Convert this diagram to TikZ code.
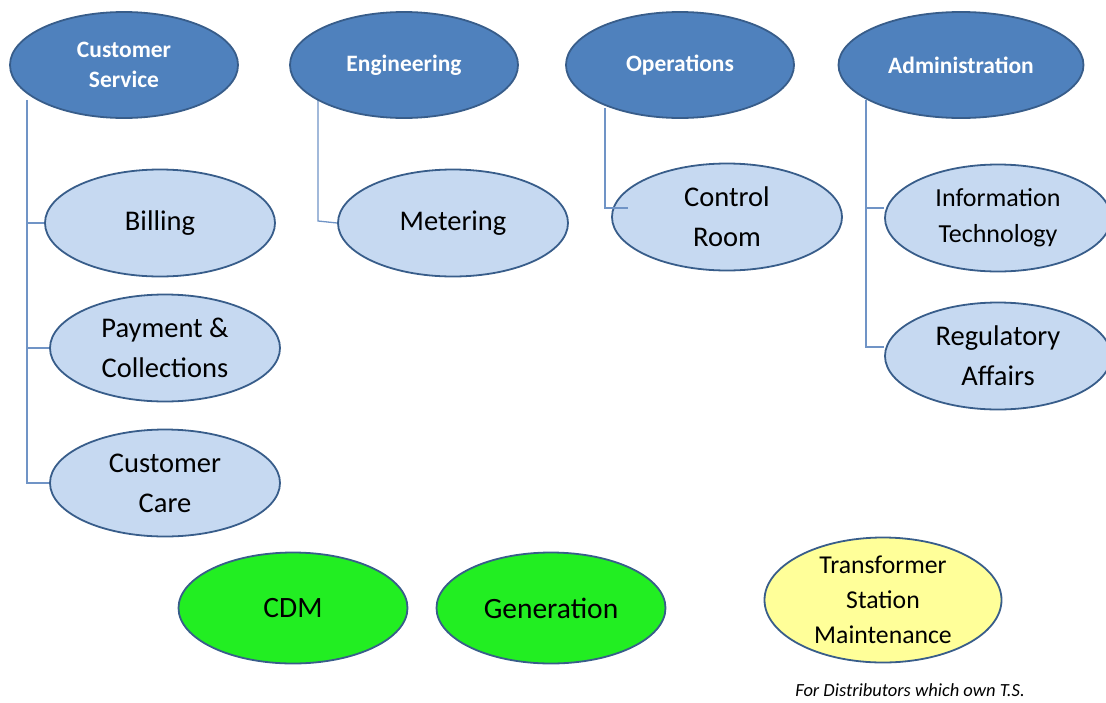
\documentclass[tikz,border=0pt]{standalone}
\usepackage{fontspec}
\setmainfont{Carlito}
\usetikzlibrary{shapes.geometric}
\definecolor{dkfill}{HTML}{4F81BD}
\definecolor{dkline}{HTML}{385D8A}
\definecolor{ltfill}{HTML}{C6D9F1}
\definecolor{conn}{HTML}{7094C6}
\definecolor{grn}{HTML}{22EE22}
\definecolor{ylw}{HTML}{FFFF99}
\tikzset{
  dept/.style={ellipse, draw=dkline, line width=1.8pt, fill=dkfill, text=white, inner sep=0pt,
    minimum width=228pt, minimum height=106pt, align=center, font=\fontsize{23.5}{30}\selectfont\bfseries},
  unit/.style={ellipse, draw=dkline, line width=1.8pt, fill=ltfill, text=black, inner sep=0pt,
    minimum width=230pt, minimum height=107pt, align=center, font=\fontsize{28.5}{40}\selectfont},
  gunit/.style={ellipse, draw=dkline, line width=1.8pt, fill=grn, text=black, inner sep=0pt,
    minimum width=229pt, minimum height=111pt, align=center, font=\fontsize{29.5}{35}\selectfont},
  yunit/.style={ellipse, draw=dkline, line width=1.8pt, fill=ylw, text=black, inner sep=0pt,
    minimum width=237pt, minimum height=125pt, align=center, font=\fontsize{25.7}{35}\selectfont},
  link/.style={draw=conn, line width=1.3pt}
}
\begin{document}
\begin{tikzpicture}[x=1pt,y=-1pt]
\useasboundingbox (0,0) rectangle (1106,702);
\clip (0,0) rectangle (1106,702);
\coordinate (csv) at (27,100);
\coordinate (env) at (318,100);
\coordinate (opv) at (605,108);
\coordinate (adv) at (866,100);
\coordinate (csb) at (27,223);
\coordinate (csp) at (27,348);
\coordinate (csc) at (27,483);
\coordinate (enb) at (318,221);
\coordinate (opb) at (605,208);
\coordinate (opx) at (628,208);
\coordinate (adi) at (866,208);
\coordinate (adr) at (866,347);

\node[unit] (bill) at (160,223) {Billing};
\node[unit] (pay) at (165,348) {Payment \&\\Collections};
\node[unit] (care) at (165,483) {Customer\\Care};
\node[unit] (met) at (453,223) {Metering};
\node[unit] (ctrl) at (727,217) {Control\\Room};
\node[unit, minimum width=226pt, font=\fontsize{26}{36}\selectfont] (it) at (998,218) {Information\\Technology};
\node[unit, minimum width=226pt] (reg) at (998,356) {Regulatory\\Affairs};

\draw[link] (csv) -- (csc) -- (care.west);
\draw[link] (csb) -- (bill.west);
\draw[link] (csp) -- (pay.west);
\draw[link] (env) -- (enb) -- (met.west);
\draw[link] (opv) -- (opb) -- (opx);
\draw[link] (adv) -- (adr) -- (adr -| reg.west);
\draw[link] (adi) -- (adi -| it.west);

\node[dept] (cs) at (124,65) {Customer\\Service};
\node[dept] (eng) at (404,65) {Engineering};
\node[dept] (ops) at (680,65) {Operations};
\node[dept, minimum width=245pt] (adm) at (961,65) {Administration};

\node[gunit] (cdm) at (293,608) {CDM};
\node[gunit] (gen) at (551,608) {Generation};
\node[yunit] (tsm) at (883,600) {Transformer\\Station\\Maintenance};
\node[font=\fontsize{18.5}{22}\selectfont\itshape] (note) at (910,690) {For Distributors which own T.S.};
\end{tikzpicture}
\end{document}
